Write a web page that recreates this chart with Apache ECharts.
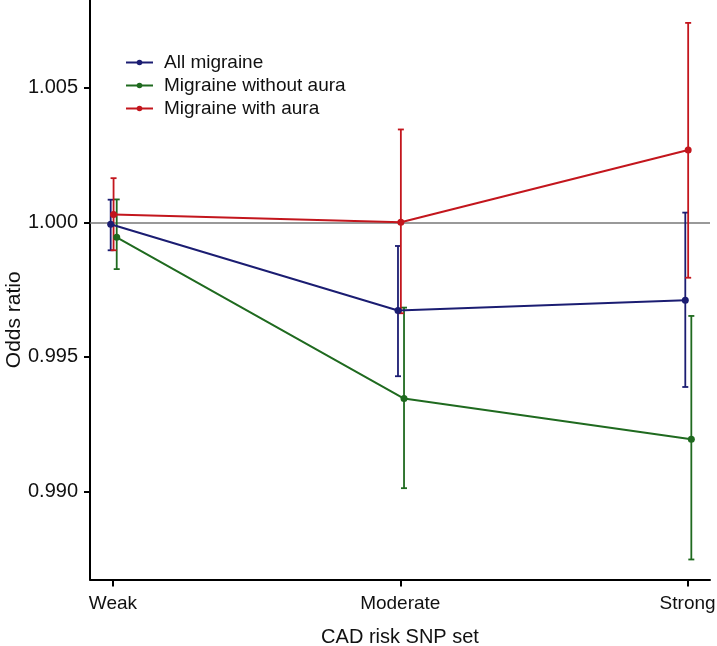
<!DOCTYPE html>
<html>
<head>
<meta charset="utf-8">
<script src="https://cdn.jsdelivr.net/npm/echarts@6/dist/echarts.min.js"></script>
<style>html,body{margin:0;padding:0;background:#fff;}#c{width:717px;height:646px;}</style>
</head>
<body>
<div id="c"></div>
<script>
const categories = ['Weak', 'Moderate', 'Strong'];
const seriesNames = ['All migraine', 'Migraine without aura', 'Migraine with aura'];
const allOR = [0.99993, 0.99672, 0.99710];
const allLo = [0.99896, 0.99428, 0.99388];
const allHi = [1.00084, 0.99912, 1.00036];
const woOR = [0.99944, 0.99345, 0.99194];
const woLo = [0.99826, 0.99012, 0.98747];
const woHi = [1.00085, 0.99683, 0.99652];
const waOR = [1.00029, 1.00000, 1.00269];
const waLo = [0.99896, 0.99662, 0.99794];
const waHi = [1.00164, 1.00345, 1.00741];
const yTicks = [0.990, 0.995, 1.000, 1.005];

const colors = ['#1b1d72', '#1f6a1f', '#c3161d'];
const dodge = [-0.008, 0.013, 0.002];
const groups = [[allOR, allLo, allHi], [woOR, woLo, woHi], [waOR, waLo, waHi]];
const FONT = 'Liberation Sans, Arial, sans-serif';

const series = [];
groups.forEach((g, si) => {
  const pts = categories.map((c, i) => [i + dodge[si], g[0][i]]);
  const bars = categories.map((c, i) => [i + dodge[si], g[1][i], g[2][i]]);
  series.push({
    type: 'custom',
    name: seriesNames[si] + ' CI',
    data: bars,
    z: 2 + si,
    silent: true,
    encode: { x: 0, y: [1, 2] },
    renderItem: function (params, api) {
      const lo = api.coord([api.value(0), api.value(1)]);
      const hi = api.coord([api.value(0), api.value(2)]);
      const hw = 3;
      const st = { stroke: colors[si], lineWidth: 1.8, fill: null };
      return {
        type: 'group',
        children: [
          { type: 'line', shape: { x1: lo[0], y1: lo[1], x2: hi[0], y2: hi[1] }, style: st },
          { type: 'line', shape: { x1: lo[0] - hw, y1: lo[1], x2: lo[0] + hw, y2: lo[1] }, style: st },
          { type: 'line', shape: { x1: hi[0] - hw, y1: hi[1], x2: hi[0] + hw, y2: hi[1] }, style: st }
        ]
      };
    }
  });
  series.push({
    type: 'line',
    name: seriesNames[si],
    data: pts,
    z: 5 + si,
    color: colors[si],
    symbol: 'circle',
    symbolSize: 7,
    lineStyle: { width: 2, color: colors[si] },
    itemStyle: { color: colors[si] },
    markLine: si === 0 ? {
      silent: true,
      symbol: 'none',
      label: { show: false },
      lineStyle: { color: '#777777', width: 1.5, type: 'solid' },
      data: [{ yAxis: 1.0 }],
      z: 1
    } : undefined
  });
});

const chart = echarts.init(document.getElementById('c'));
chart.setOption({
  animation: false,
  backgroundColor: '#ffffff',
  textStyle: { fontFamily: FONT },
  grid: { left: 90, right: 7, top: 0, bottom: 66.5, containLabel: false, outerBoundsMode: 'none' },
  legend: {
    data: seriesNames,
    orient: 'vertical',
    left: 125,
    top: 51,
    padding: 0,
    itemWidth: 27,
    itemHeight: 7,
    itemGap: 0,
    textStyle: { fontSize: 19, lineHeight: 23, color: '#111', padding: [0, 0, 0, 6], fontFamily: FONT }
  },
  xAxis: {
    type: 'value',
    min: -0.08,
    max: 2.078,
    splitLine: { show: false },
    axisLine: { show: true, onZero: false, lineStyle: { color: '#000', width: 2 } },
    axisTick: { show: true, customValues: [0, 1, 2], length: 7, lineStyle: { color: '#000', width: 2 } },
    axisLabel: {
      customValues: [0, 1, 2],
      formatter: v => categories[Math.round(v)],
      fontSize: 19, color: '#111', margin: 15
    },
    name: 'CAD risk SNP set',
    nameLocation: 'middle',
    nameGap: 48,
    nameMoveOverlap: false,
    nameTextStyle: { fontSize: 20, color: '#111' }
  },
  yAxis: {
    type: 'value',
    min: 0.986726,
    max: 1.008261,
    splitLine: { show: false },
    axisLine: { show: true, onZero: false, lineStyle: { color: '#000', width: 2 } },
    axisTick: { show: true, customValues: yTicks, length: 6, lineStyle: { color: '#000', width: 2 } },
    axisLabel: {
      customValues: yTicks,
      formatter: v => v.toFixed(3),
      fontSize: 20, color: '#111', margin: 12
    },
    name: 'Odds ratio',
    nameLocation: 'middle',
    nameGap: 65,
    nameRotate: 90,
    nameMoveOverlap: false,
    nameTextStyle: { fontSize: 21, color: '#111', padding: [0, 60, 0, 0] }
  },
  series: series
});
</script>
</body>
</html>
